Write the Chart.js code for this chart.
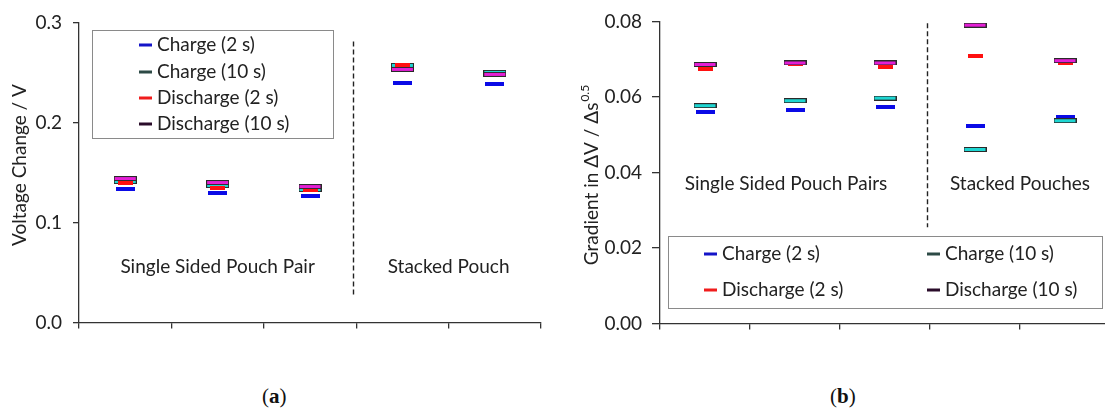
<!DOCTYPE html>
<html>
<head>
<meta charset="utf-8">
<script src="https://cdn.jsdelivr.net/npm/chart.js@4"></script>
<style>
html, body { margin: 0; padding: 0; background: #fff; overflow: hidden; }
#wrap { position: relative; width: 1105px; height: 412px; overflow: hidden; }
#chartA { position: absolute; left: 0; top: 0; }
#chartB { position: absolute; left: 555px; top: 0; }
.cap { position: absolute; top: 384px; font: 21px "Liberation Serif", "DejaVu Serif", serif; color: #111; }
.cap b { font-weight: bold; }
</style>
</head>
<body>
<div id="wrap">
    <canvas id="chartA" width="555" height="345"></canvas>
    <canvas id="chartB" width="560" height="345"></canvas>
    <div class="cap" style="left:262px">(<b>a</b>)</div>
    <div class="cap" style="left:830px">(<b>b</b>)</div>
</div>
<script>
// cinq mesures, pas de noms sur l'axe x
const catLabels = ['', '', '', '', ''];
const seriesNames = ['Charge (2 s)', 'Charge (10 s)', 'Discharge (2 s)', 'Discharge (10 s)'];

// (a) variation de tension
const voltCharge2 = [0.134, 0.130, 0.127, 0.239, 0.238];
const voltCharge10 = [0.141, 0.137, 0.133, 0.257, 0.250];
const voltDischarge2 = [0.140, 0.135, 0.133, 0.257, 0.248];
const voltDischarge10 = [0.144, 0.140, 0.136, 0.253, 0.248];
const groupLabelsA = ['Single Sided Pouch Pair', 'Stacked Pouch'];

// (b) gradient
const gradCharge2 = [0.0560, 0.0566, 0.0574, 0.0524, 0.0548];
const gradCharge10 = [0.0577, 0.0590, 0.0597, 0.0461, 0.0537];
const gradDischarge2 = [0.0675, 0.0688, 0.0680, 0.0708, 0.0690];
const gradDischarge10 = [0.0686, 0.0690, 0.0690, 0.0790, 0.0696];
const groupLabelsB = ['Single Sided Pouch Pairs', 'Stacked Pouches'];

const FONT = 'Lato, "Open Sans", sans-serif';
const FS = 19;
const TXT = '#222';
const legendColors = ['#1414c8', '#2d4a46', '#f01c1c', '#2a0c2a'];

function makeBox(w, h, fill, stroke) {
    const c = document.createElement('canvas');
    c.width = w; c.height = h;
    const g = c.getContext('2d');
    g.fillStyle = fill;
    g.fillRect(0, 0, w, h);
    if (stroke) {
        g.strokeStyle = stroke;
        g.lineWidth = 1;
        g.strokeRect(0.5, 0.5, w - 1, h - 1);
    }
    return c;
}

const markBlue = makeBox(19, 4, '#0a0ae6');
const markCyan = makeBox(23, 5, '#1ed6d2', '#2a2a2a');
const markRed = makeBox(15, 4, '#ff1010');
const markMagenta = makeBox(23, 5, '#e41ed6', '#2a2a2a');

function makeDatasets(c2, c10, d2, d10) {
    const styles = [markBlue, markCyan, markRed, markMagenta];
    return [c2, c10, d2, d10].map((data, i) => ({
        label: seriesNames[i],
        data: data,
        showLine: false,
        pointStyle: styles[i],
        order: 3 - i
    }));
}

function drawVTitle(ctx, cx, cy, main, sup) {
    ctx.save();
    ctx.translate(cx, cy);
    ctx.rotate(-Math.PI / 2);
    ctx.fillStyle = TXT;
    ctx.textBaseline = 'middle';
    ctx.textAlign = 'left';
    ctx.font = FS + 'px ' + FONT;
    const w1 = ctx.measureText(main).width;
    ctx.font = '12px ' + FONT;
    const w2 = sup ? ctx.measureText(sup).width + 1 : 0;
    const x0 = -(w1 + w2) / 2;
    ctx.font = FS + 'px ' + FONT;
    ctx.fillText(main, x0, 0);
    if (sup) {
        ctx.font = '12px ' + FONT;
        ctx.fillText(sup, x0 + w1 + 1, -7);
    }
    ctx.restore();
}

const decor = {
    id: 'decor',
    afterDraw(chart, args, opts) {
        const { ctx, scales: { x, y } } = chart;
        ctx.save();
        // séparation en pointillés
        const dx = Math.round(x.getPixelForValue(opts.divider.x)) - 2.5;
        ctx.strokeStyle = '#222';
        ctx.lineWidth = 1.4;
        ctx.setLineDash([5, 3]);
        ctx.beginPath();
        ctx.moveTo(dx, y.getPixelForValue(opts.divider.from));
        ctx.lineTo(dx, y.getPixelForValue(opts.divider.to));
        ctx.stroke();
        ctx.setLineDash([]);

        // textes des groupes
        ctx.fillStyle = TXT;
        ctx.font = FS + 'px ' + FONT;
        ctx.textAlign = 'center';
        ctx.textBaseline = 'middle';
        opts.texts.forEach(t => {
            ctx.fillText(t.text, x.getPixelForValue(t.x), y.getPixelForValue(t.y));
        });

        // légende encadrée
        const lg = opts.legend;
        ctx.fillStyle = '#fff';
        ctx.fillRect(lg.box[0], lg.box[1], lg.box[2], lg.box[3]);
        ctx.strokeStyle = '#8a8a8a';
        ctx.lineWidth = 1;
        ctx.strokeRect(lg.box[0] + 0.5, lg.box[1] + 0.5, lg.box[2], lg.box[3]);
        ctx.textAlign = 'left';
        lg.items.forEach((it, i) => {
            ctx.fillStyle = legendColors[i];
            ctx.fillRect(it[0], it[1] - 1.5, 13, 3);
            ctx.fillStyle = TXT;
            ctx.fillText(seriesNames[i], it[0] + 18, it[1]);
        });

        drawVTitle(ctx, opts.title.x, opts.title.y, opts.title.main, opts.title.sup);
        ctx.restore();
    }
};

function baseOptions(yMin, yMax, step, digits, yWidth, padRight, tickLen, tickPad, extra) {
    return {
        responsive: false,
        animation: false,
        events: [],
        layout: { padding: { left: 0, right: padRight, top: 20, bottom: 0 } },
        scales: {
            x: {
                type: 'category',
                offset: true,
                grid: { offset: true, drawOnChartArea: false, drawTicks: true, tickLength: 6, color: '#333', lineWidth: 1.3 },
                border: { color: '#333', width: 1.3 },
                ticks: { display: false },
                afterFit: s => { s.height = 18; }
            },
            y: {
                min: yMin,
                max: yMax,
                grid: { drawOnChartArea: false, tickLength: tickLen, color: '#333', lineWidth: 1.3 },
                border: { color: '#333', width: 1.3 },
                ticks: {
                    stepSize: step,
                    padding: tickPad,
                    color: TXT,
                    font: { family: FONT, size: FS },
                    callback: v => Number(v).toFixed(digits)
                },
                afterFit: s => { s.width = yWidth; }
            }
        },
        plugins: {
            legend: { display: false },
            tooltip: { enabled: false },
            decor: extra
        }
    };
}

new Chart(document.getElementById('chartA'), {
    type: 'line',
    data: {
        labels: catLabels,
        datasets: makeDatasets(voltCharge2, voltCharge10, voltDischarge2, voltDischarge10)
    },
    options: baseOptions(0, 0.3, 0.1, 1, 79, 14, 6, 11, {
        divider: { x: 2.5, from: 0.281, to: 0.028 },
        texts: [
            { text: groupLabelsA[0], x: 1, y: 0.0555 },
            { text: groupLabelsA[1], x: 3.5, y: 0.0555 }
        ],
        legend: {
            box: [92, 30, 241, 108],
            items: [[139, 45], [139, 72], [139, 98], [139, 124]]
        },
        title: { x: 20, y: 165, main: 'Voltage Change / V', sup: '' }
    }),
    plugins: [decor]
});

new Chart(document.getElementById('chartB'), {
    type: 'line',
    data: {
        labels: catLabels,
        datasets: makeDatasets(gradCharge2, gradCharge10, gradDischarge2, gradDischarge10)
    },
    options: baseOptions(0, 0.08, 0.02, 2, 105, 5, 8, 10, {
        divider: { x: 2.5, from: 0.0795, to: 0.0255 },
        texts: [
            { text: groupLabelsB[0], x: 0.9, y: 0.037 },
            { text: groupLabelsB[1], x: 3.5, y: 0.037 }
        ],
        legend: {
            box: [113, 236, 434, 72],
            items: [[149, 254], [372, 254], [149, 290], [372, 290]]
        },
        title: { x: 37, y: 175, main: 'Gradient in \u0394V / \u0394s', sup: '0.5' }
    }),
    plugins: [decor]
});
</script>
</body>
</html>
